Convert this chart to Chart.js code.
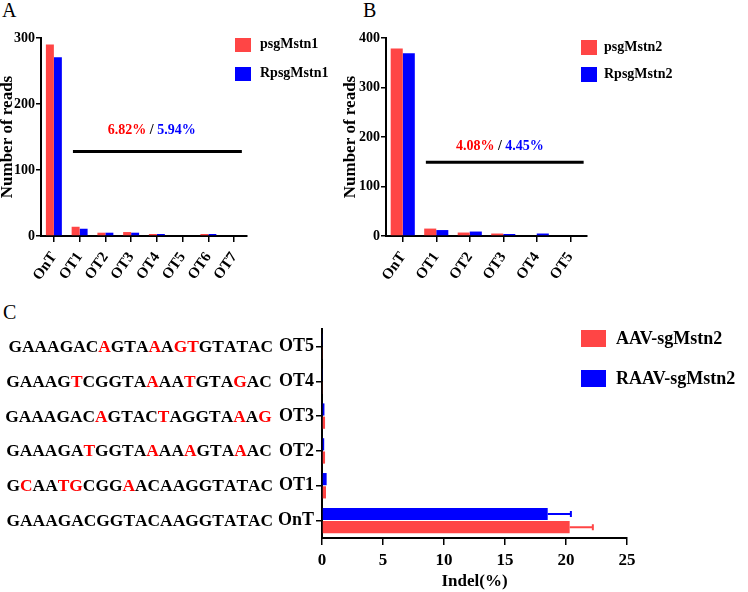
<!DOCTYPE html>
<html>
<head>
<meta charset="utf-8">
<script src="https://cdn.jsdelivr.net/npm/chart.js@4.4.1/dist/chart.umd.min.js"></script>
<style>
  body { margin: 0; background: #fff; width: 748px; height: 592px; position: relative; overflow: hidden; font-family: 'Liberation Serif', serif; }
  canvas { position: absolute; }
  .tag { position: absolute; font-size: 20px; line-height: 1; color: #000; }
  .leg { position: absolute; font-weight: bold; color: #000; white-space: nowrap; line-height: 1; }
  .sw { position: absolute; }
</style>
</head>
<body>
<div class="tag" style="left:2px;top:0px">A</div>
<div class="tag" style="left:363px;top:0px">B</div>
<div class="tag" style="left:3px;top:302px">C</div>
<canvas id="chartA" width="343" height="290" style="left:0;top:0"></canvas>
<canvas id="chartB" width="405" height="290" style="left:343px;top:0"></canvas>
<canvas id="chartC" width="748" height="302" style="left:0;top:290px"></canvas>
<script>
const RED = '#FF4545';
const BLUE = '#0000FF';
const FONT = '"Liberation Serif"';

// Panel A: reads per site
const A_LABELS = ['OnT', 'OT1', 'OT2', 'OT3', 'OT4', 'OT5', 'OT6', 'OT7'];
const A_PSG = [290, 14, 5, 6, 3, 0, 3, 0];
const A_RPSG = [271, 11, 5, 5, 3, 0, 3, 0];
const A_PCT = ['6.82%', '5.94%'];
const A_NAMES = ['psgMstn1', 'RpsgMstn1'];

// Panel B
const B_LABELS = ['OnT', 'OT1', 'OT2', 'OT3', 'OT4', 'OT5'];
const B_PSG = [379, 15, 7, 5, 0, 0];
const B_RPSG = [369, 12, 9, 4, 5, 0];
const B_PCT = ['4.08%', '4.45%'];
const B_NAMES = ['psgMstn2', 'RpsgMstn2'];

// Panel C: indel %, listed top to bottom
const C_LABELS = ['OT5', 'OT4', 'OT3', 'OT2', 'OT1', 'OnT'];
const C_AAV = [0.05, 0.05, 0.25, 0.25, 0.33, 20.3];
const C_AAV_ERR = [0, 0, 0, 0, 0, 1.9];
const C_RAAV = [0.05, 0.05, 0.2, 0.18, 0.38, 18.5];
const C_RAAV_ERR = [0, 0, 0, 0, 0, 1.9];
const C_NAMES = ['AAV-sgMstn2', 'RAAV-sgMstn2'];
const C_SEQS = [
  'GAAAGACAGTAAAGTGTATAC',
  'GAAAGTCGGTAAAATGTAGAC',
  'GAAAGACAGTACTAGGTAAAG',
  'GAAAGATGGTAAAAAGTAAAC',
  'GCAATGCGGAACAAGGTATAC',
  'GAAAGACGGTACAAGGTATAC'
];
const C_MISMATCH = [[7, 11, 13, 14], [5, 11, 14, 18], [7, 12, 18, 20], [6, 11, 14, 18], [1, 4, 5, 9], []];

function addLegend(x, y, gap, box, size, names) {
  [RED, BLUE].forEach((c, i) => {
    const top = y + i * gap;
    const sw = document.createElement('div');
    sw.className = 'sw';
    sw.style.cssText = `left:${x}px;top:${top}px;width:${box[0]}px;height:${box[1]}px;background:${c}`;
    document.body.appendChild(sw);
    const t = document.createElement('div');
    t.className = 'leg';
    t.textContent = names[i];
    t.style.cssText = `left:${x + box[0] + box[2]}px;top:${top + box[1] / 2 - size / 2 - 1}px;font-size:${size}px`;
    document.body.appendChild(t);
  });
}
addLegend(235, 38, 29, [16, 14, 9], 14, A_NAMES);
addLegend(581, 40, 27, [16, 15, 7], 14, B_NAMES);
addLegend(581, 330, 40, [25, 17, 10], 18, C_NAMES);

// line with percentage text over the off-target bars
const notePlugin = {
  id: 'note',
  afterDatasetsDraw(chart, args, o) {
    const { ctx, scales: { x, y } } = chart;
    const py = y.getPixelForValue(o.level);
    ctx.save();
    ctx.strokeStyle = '#000';
    ctx.lineWidth = 3;
    ctx.beginPath();
    ctx.moveTo(x.getPixelForValue(o.from), py);
    ctx.lineTo(x.getPixelForValue(o.to), py);
    ctx.stroke();
    ctx.font = 'bold 14px ' + FONT;
    ctx.textBaseline = 'middle';
    const parts = [[o.pct[0], '#FF0000'], [' / ', '#000'], [o.pct[1], BLUE]];
    const total = parts.reduce((s, p) => s + ctx.measureText(p[0]).width, 0);
    let tx = x.getPixelForValue(o.textAt) - total / 2;
    const ty = y.getPixelForValue(o.textLevel);
    parts.forEach(p => {
      ctx.fillStyle = p[1];
      ctx.fillText(p[0], tx, ty);
      tx += ctx.measureText(p[0]).width;
    });
    ctx.restore();
  }
};

function readsChart(id, labels, d1, d2, ymax, yAxisW, padRight, catPct, note) {
  const tickFont = { family: FONT, size: 14, weight: 'bold' };
  return new Chart(document.getElementById(id), {
    type: 'bar',
    data: {
      labels,
      datasets: [
        { data: d1, backgroundColor: RED, categoryPercentage: catPct, barPercentage: 1 },
        { data: d2, backgroundColor: BLUE, categoryPercentage: catPct, barPercentage: 1 }
      ]
    },
    options: {
      responsive: false,
      animation: false,
      layout: { padding: { top: 38, right: padRight, left: 0, bottom: 0 } },
      plugins: { legend: { display: false }, tooltip: { enabled: false }, note },
      scales: {
        x: {
          offset: true,
          grid: { drawOnChartArea: false, offset: false, tickLength: 6, color: '#000', lineWidth: 1.5 },
          border: { color: '#000', width: 2 },
          ticks: { autoSkip: false, minRotation: 55, maxRotation: 55, color: '#000', padding: 7,
                   font: { family: FONT, size: 15, weight: 'bold' } },
          afterFit: s => { s.height = 54; }
        },
        y: {
          min: 0,
          max: ymax,
          grid: { drawOnChartArea: false, tickLength: 5, color: '#000', lineWidth: 1.5 },
          border: { color: '#000', width: 2 },
          ticks: { stepSize: 100, color: '#000', font: tickFont, padding: 1 },
          title: { display: true, text: 'Number of reads', color: '#000', padding: 0,
                   font: { family: FONT, size: 17, weight: 'bold', lineHeight: 0.88 } },
          afterFit: s => { s.width = yAxisW; }
        }
      }
    },
    plugins: [notePlugin]
  });
}

// error bars for the horizontal chart
const errPlugin = {
  id: 'errbars',
  afterDatasetsDraw(chart) {
    const { ctx, scales: { x } } = chart;
    ctx.save();
    chart.data.datasets.forEach((ds, i) => {
      const meta = chart.getDatasetMeta(i);
      ctx.strokeStyle = ds.backgroundColor;
      ctx.lineWidth = 2;
      meta.data.forEach((bar, j) => {
        const e = ds.errors[j];
        if (!e) return;
        const x1 = x.getPixelForValue(ds.data[j] + e);
        ctx.beginPath();
        ctx.moveTo(bar.x, bar.y);
        ctx.lineTo(x1, bar.y);
        ctx.moveTo(x1, bar.y - 3);
        ctx.lineTo(x1, bar.y + 3);
        ctx.stroke();
      });
    });
    ctx.restore();
  }
};

// sequences left of the site names, mismatches in red
const seqPlugin = {
  id: 'seqs',
  afterDraw(chart) {
    const { ctx, scales: { y } } = chart;
    ctx.save();
    ctx.font = 'bold 17.4px ' + FONT;
    ctx.textBaseline = 'middle';
    C_SEQS.forEach((seq, i) => {
      const py = y.getPixelForTick(i) + 1;
      let px = 268 - ctx.measureText(seq).width;
      [...seq].forEach((ch, k) => {
        ctx.fillStyle = C_MISMATCH[i].includes(k) ? '#FF0000' : '#000';
        ctx.fillText(ch, px, py);
        px += ctx.measureText(ch).width;
      });
    });
    ctx.restore();
  }
};

function drawAll() {
  readsChart('chartA', A_LABELS, A_PSG, A_RPSG, 300, 41, 96, 0.62,
    { level: 128, from: 0.74, to: 7.3, textAt: 3.8, textLevel: 160, pct: A_PCT });
  readsChart('chartB', B_LABELS, B_PSG, B_RPSG, 400, 43, 161, 0.72,
    { level: 149, from: 0.69, to: 5.4, textAt: 2.9, textLevel: 182, pct: B_PCT });

  new Chart(document.getElementById('chartC'), {
    type: 'bar',
    data: {
      labels: C_LABELS,
      datasets: [
        { label: C_NAMES[1], data: C_RAAV, errors: C_RAAV_ERR, backgroundColor: BLUE },
        { label: C_NAMES[0], data: C_AAV, errors: C_AAV_ERR, backgroundColor: RED }
      ]
    },
    options: {
      indexAxis: 'y',
      responsive: false,
      animation: false,
      datasets: { bar: { categoryPercentage: 0.76, barPercentage: 0.92 } },
      layout: { padding: { top: 39, right: 121, left: 0, bottom: 0 } },
      plugins: { legend: { display: false }, tooltip: { enabled: false } },
      scales: {
        x: {
          min: 0,
          max: 25,
          grid: { drawOnChartArea: false, tickLength: 7, color: '#000', lineWidth: 1.5 },
          border: { color: '#000', width: 2 },
          ticks: { stepSize: 5, color: '#000', padding: 5, font: { family: FONT, size: 17, weight: 'bold' } },
          title: { display: true, text: 'Indel(%)', color: '#000', padding: 0,
                   font: { family: FONT, size: 17, weight: 'bold' } },
          afterFit: s => { s.height = 54; }
        },
        y: {
          offset: true,
          grid: { drawOnChartArea: false, offset: false, tickLength: 6, color: '#000', lineWidth: 1.5 },
          border: { color: '#000', width: 2 },
          ticks: { color: '#000', padding: 2, font: { family: FONT, size: 18, weight: 'bold' } },
          afterFit: s => { s.width = 322; }
        }
      }
    },
    plugins: [errPlugin, seqPlugin]
  });
}

Promise.all([
  document.fonts.load('bold 17px "Liberation Serif"'),
  document.fonts.load('17px "Liberation Serif"')
]).then(drawAll, drawAll);
</script>
</body>
</html>
